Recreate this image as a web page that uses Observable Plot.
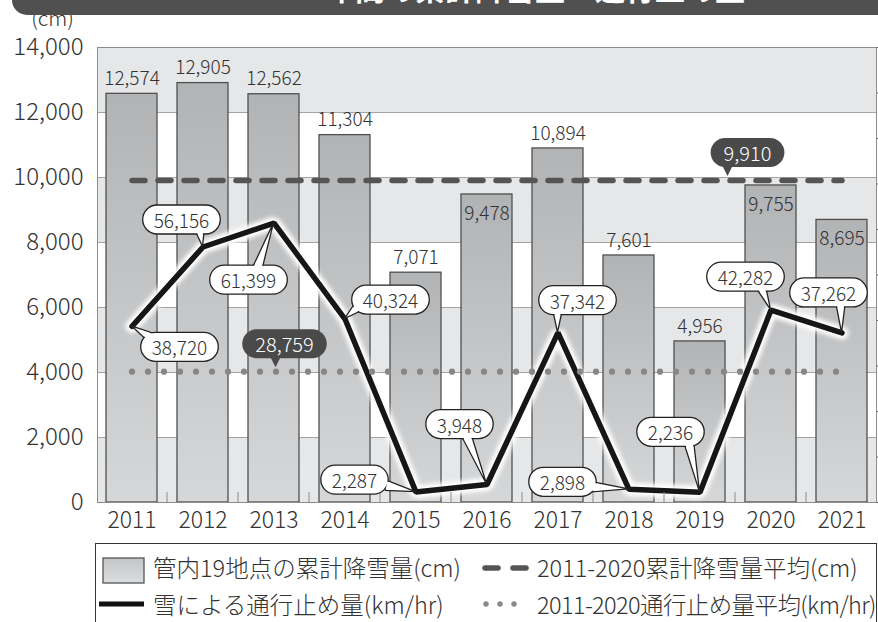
<!DOCTYPE html>
<html><head><meta charset="utf-8">
<script src="https://cdn.jsdelivr.net/npm/d3@7"></script>
<script src="https://cdn.jsdelivr.net/npm/@observablehq/plot@0.6"></script>
<style>
body{margin:0;background:#fff;font-family:"Noto Sans CJK JP","Noto Sans",sans-serif;font-weight:300;color:#333;}
#wrap{position:relative;width:878px;height:622px;overflow:hidden;background:#fff;}
#chart{position:absolute;left:0;top:0;}
#title{position:absolute;left:12px;top:0;width:866px;height:15px;background:#505050;border-bottom-left-radius:15px;overflow:hidden;}
#title span{position:absolute;left:180px;right:0;text-align:center;top:-31px;font-size:30px;font-weight:bold;color:#fff;line-height:36px;}
#legend{position:absolute;left:95px;top:543px;width:782px;height:100px;border:1.3px solid #333;box-sizing:border-box;}
.item{position:absolute;font-size:23.5px;line-height:30px;white-space:nowrap;color:#333;font-weight:300;}
.sw{position:absolute;}
</style></head><body>
<div id="wrap">
<div id="chart"></div>
<div id="title"><span>年間の累計降雪量・通行止め量</span></div>
<div id="legend">
  <svg class="sw" style="left:6px;top:13px" width="44" height="28"><defs><linearGradient id="lg" x1="0" y1="0" x2="0" y2="1"><stop offset="0" stop-color="#c4c5c7"/><stop offset="1" stop-color="#dcdddf"/></linearGradient></defs><rect x="1" y="1" width="41" height="25" fill="url(#lg)" stroke="#555" stroke-width="1.3"/></svg>
  <div class="item" style="left:57px;top:8px">管内19地点の累計降雪量(cm)</div>
  <svg class="sw" style="left:384px;top:17px" width="50" height="14"><line x1="5" y1="7" x2="46" y2="7" stroke="#555" stroke-width="5.5" stroke-linecap="round" stroke-dasharray="13,15"/></svg>
  <div class="item" style="left:441px;top:8px">2011-2020累計降雪量平均(cm)</div>
  <svg class="sw" style="left:1px;top:53px" width="50" height="14"><line x1="2" y1="7" x2="47" y2="7" stroke="#111" stroke-width="5"/></svg>
  <div class="item" style="left:57px;top:45px">雪による通行止め量(km/hr)</div>
  <svg class="sw" style="left:384px;top:53px" width="52" height="14"><line x1="6" y1="7" x2="48" y2="7" stroke="#8a8a8a" stroke-width="5.5" stroke-linecap="round" stroke-dasharray="0,14"/></svg>
  <div class="item" style="left:441px;top:45px;letter-spacing:-0.6px">2011-2020通行止め量平均(km/hr)</div>
</div>
</div>
<script>
// ---- data ----
const years = ["2011","2012","2013","2014","2015","2016","2017","2018","2019","2020","2021"];
const snowfall = [12574,12905,12562,11304,7071,9478,10894,7601,4956,9755,8695];
const closures = [38720,56156,61399,40324,2287,3948,37342,2898,2236,42282,37262];
const snowAvg = 9910;
const closureAvg = 28759;
const leftTicks = [0,2000,4000,6000,8000,10000,12000,14000];
const leftMax = 14000;
const rightMax = 100000;
const rightTicks = [0,10000,20000,30000,40000,50000,60000,70000,80000,90000,100000];
const shadedBands = [[0,2000],[4000,6000],[8000,10000],[12000,14000]];
const insideLabelYears = ["2016","2020","2021"];

// ---- layout of annotations (offsets in px) ----
// [callout center dx, dy from point, tail attach dx, dy from callout center]
const calloutLayout = [
  [48, 21, -28, -9],
  [-21, -27, 18, 9],
  [-25, 57, 8, -9],
  [46, -19, -32, 7],
  [-61, -12, 32, 6],
  [-27, -60, 6, 9],
  [20, -32, -20, 9],
  [-66, -7, 30, 5],
  [-29, -60, 18, 9],
  [-25, -33, 15, 9],
  [-13, -40, 12, 9]
];
const pills = [
  {value: snowAvg, y: snowAvg, year: "2020", tipDx: -43, centerDx: 20},
  {value: closureAvg, y: closureAvg * leftMax / rightMax, year: "2013", tipDx: 2, centerDx: 9}
];

const FONT = '"Noto Sans CJK JP","Noto Sans",sans-serif';
const fmt = d3.format(",");
const k = leftMax / rightMax;
const rows = years.map((y, i) => ({year: y, snow: snowfall[i], stop: closures[i], stopY: closures[i] * k}));
const span = [{year: years[0]}, {year: years[years.length - 1]}];
const HALO = "#fffffe";

const plot = Plot.plot({
  width: 878, height: 540,
  marginLeft: 97, marginRight: 2, marginTop: 47, marginBottom: 38,
  style: {fontFamily: FONT, fontWeight: 300, background: "transparent", color: "#333", overflow: "visible"},
  x: {type: "band", domain: years, paddingInner: 0.275, paddingOuter: 0.12},
  y: {domain: [0, leftMax]},
  marks: [
    Plot.rect(shadedBands, {y1: d => d[0], y2: d => d[1], fill: "#e6e7e8"}),
    Plot.ruleY(leftTicks, {stroke: "#a4a4a4", strokeWidth: 1}),
    Plot.barY(rows, {x: "year", y: "snow", fill: "url(#barGrad)", stroke: "#505050", strokeWidth: 1.3}),
    Plot.text(rows.filter(d => !insideLabelYears.includes(d.year)), {x: "year", y: "snow", text: d => fmt(d.snow), dy: -15, fontSize: 19, fill: "#333", lineAnchor: "middle"}),
    Plot.text(rows.filter(d => insideLabelYears.includes(d.year)), {x: "year", y: "snow", text: d => fmt(d.snow), dy: 19, fontSize: 19, fill: "#333", lineAnchor: "middle"}),
    // snowfall average (dashed)
    Plot.line(span, {x: "year", y: () => snowAvg, stroke: HALO, strokeWidth: 11, strokeLinecap: "round", strokeDasharray: "13,13"}),
    Plot.line(span, {x: "year", y: () => snowAvg, stroke: "#555", strokeWidth: 5.5, strokeLinecap: "round", strokeDasharray: "13,13"}),
    // closures line
    Plot.line(rows, {x: "year", y: "stopY", stroke: HALO, strokeWidth: 13, strokeLinejoin: "miter"}),
    Plot.line(rows, {x: "year", y: "stopY", stroke: "#161616", strokeWidth: 5.5, strokeLinejoin: "miter"}),
    // closures average (dotted)
    Plot.line(span, {x: "year", y: () => closureAvg * k, stroke: HALO, strokeWidth: 11, strokeLinecap: "round", strokeDasharray: "0,16"}),
    Plot.line(span, {x: "year", y: () => closureAvg * k, stroke: "#878787", strokeWidth: 6.2, strokeLinecap: "round", strokeDasharray: "0,16"}),
    Plot.frame({stroke: "#8c8c8c", strokeWidth: 1}),
    Plot.axisY({ticks: leftTicks, tickFormat: fmt, tickSize: 0, tickPadding: 14, fontSize: 24, label: null, color: "#333"}),
    Plot.axisY(rightTicks.map(v => v * k), {anchor: "right", tickFormat: () => "", tickSize: 5, label: null, stroke: "#555", line: true}),
    Plot.axisX({tickSize: 0, tickPadding: 9, fontSize: 23, label: null, color: "#333"}),
    Plot.text(["(cm)"], {frameAnchor: "top-left", dx: -45, dy: -28, fontSize: 21, fill: "#333", textAnchor: "middle", lineAnchor: "middle"})
  ]
});
document.getElementById("chart").appendChild(plot);

// ---- defs: gradient + glow ----
const svg = d3.select(plot.tagName.toLowerCase() === "svg" ? plot : plot.querySelector("svg"));
const defs = svg.insert("defs", ":first-child");
const grad = defs.append("linearGradient").attr("id", "barGrad").attr("x1", 0).attr("y1", 0).attr("x2", 0).attr("y2", 1);
grad.append("stop").attr("offset", 0).attr("stop-color", "#b2b3b5");
grad.append("stop").attr("offset", 1).attr("stop-color", "#d6d7d9");
defs.append("filter").attr("id", "glow").attr("x", "-20%").attr("y", "-20%").attr("width", "140%").attr("height", "140%")
  .append("feGaussianBlur").attr("stdDeviation", 2.2);
svg.selectAll(`[stroke="${HALO}"]`).attr("filter", "url(#glow)");

// ---- annotations through Plot's scales ----
const sx = plot.scale("x"), sy = plot.scale("y");
const cx = yr => sx.apply(yr) + sx.bandwidth / 2;
const step = cx(years[1]) - cx(years[0]);
const y0 = sy.apply(0);
const ann = svg.append("g").attr("font-family", FONT).attr("font-weight", 300);

// x boundary ticks
years.slice(0, -1).forEach(yr => {
  const x = cx(yr) + step / 2;
  ann.append("line").attr("x1", x).attr("x2", x).attr("y1", y0).attr("y2", y0 - 10).attr("stroke", "#8c8c8c").attr("stroke-width", 1);
});

function measure(txt, size) {
  const t = ann.append("text").attr("font-size", size).text(txt);
  const w = t.node().getComputedTextLength();
  t.remove();
  return w;
}

rows.forEach((d, i) => {
  const px = cx(d.year), py = sy.apply(d.stopY);
  const [ox, oy, ax, ay] = calloutLayout[i];
  const ccx = px + ox, ccy = py + oy;
  const label = fmt(d.stop);
  const w = measure(label, 19) + 22, h = 29;
  const atx = ccx + ax, aty = ccy + ay;
  let vx = px - atx, vy = py - aty;
  const L = Math.hypot(vx, vy);
  vx /= L; vy /= L;
  const nx = -vy, ny = vx, hw = 5;
  const g = ann.append("g");
  const tri = [[px, py], [atx + nx * hw, aty + ny * hw], [atx - nx * hw, aty - ny * hw]];
  g.append("polygon").attr("points", tri.map(p => p.join(",")).join(" ")).attr("fill", "#fff").attr("stroke", "#222").attr("stroke-width", 1.3).attr("stroke-linejoin", "miter");
  g.append("rect").attr("x", ccx - w / 2).attr("y", ccy - h / 2).attr("width", w).attr("height", h).attr("rx", h / 2)
    .attr("fill", "#fff").attr("stroke", "#222").attr("stroke-width", 1.3);
  const x0 = ccx - w / 2, x1 = ccx + w / 2, yA = ccy - h / 2, yB = ccy + h / 2;
  let tx = Infinity, ty = Infinity;
  if (vx > 1e-6) tx = (x1 - atx) / vx; else if (vx < -1e-6) tx = (x0 - atx) / vx;
  if (vy > 1e-6) ty = (yB - aty) / vy; else if (vy < -1e-6) ty = (yA - aty) / vy;
  const s = Math.min(Math.min(tx, ty) + 3, L - 1);
  const ws = Math.max(hw * (1 - s / L) - 0.9, 0.2);
  const cover = [
    [atx + nx * (hw - 0.9), aty + ny * (hw - 0.9)],
    [atx + vx * s + nx * ws, aty + vy * s + ny * ws],
    [atx + vx * s - nx * ws, aty + vy * s - ny * ws],
    [atx - nx * (hw - 0.9), aty - ny * (hw - 0.9)]
  ];
  g.append("polygon").attr("points", cover.map(p => p.join(",")).join(" ")).attr("fill", "#fff");
  g.append("text").attr("x", ccx).attr("y", ccy).attr("text-anchor", "middle").attr("dominant-baseline", "central")
    .attr("font-size", 19).attr("fill", "#333").text(label);
});

pills.forEach(p => {
  const tipX = cx(p.year) + p.tipDx, tipY = sy.apply(p.y) - 4;
  const label = fmt(p.value);
  const w = measure(label, 20) + 26, h = 29;
  const bottom = tipY - 9;
  const ccx = tipX + p.centerDx, ccy = bottom - h / 2;
  const g = ann.append("g");
  g.append("polygon").attr("points", `${tipX - 5},${bottom - 1} ${tipX + 5},${bottom - 1} ${tipX},${tipY}`).attr("fill", "#4a4a4a");
  g.append("rect").attr("x", ccx - w / 2).attr("y", ccy - h / 2).attr("width", w).attr("height", h).attr("rx", h / 2).attr("fill", "#4a4a4a");
  g.append("text").attr("x", ccx).attr("y", ccy).attr("text-anchor", "middle").attr("dominant-baseline", "central")
    .attr("font-size", 20).attr("fill", "#fff").text(label);
});
</script>
</body></html>
